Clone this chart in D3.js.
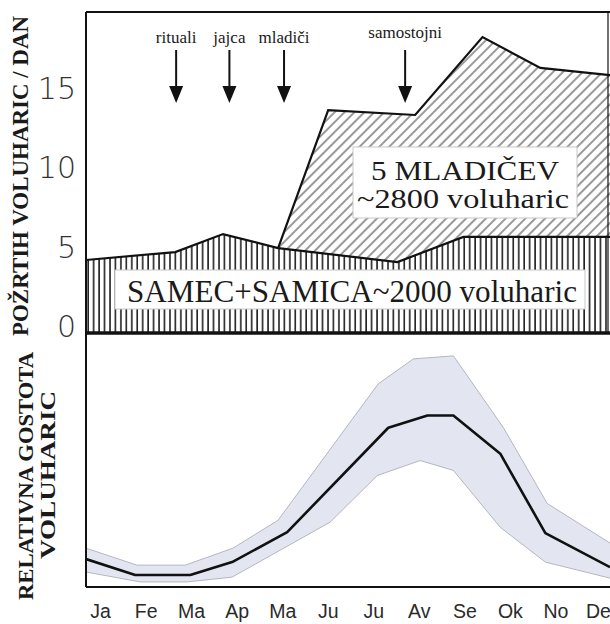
<!DOCTYPE html>
<html><head><meta charset="utf-8">
<script src="https://cdn.jsdelivr.net/npm/d3@7"></script>
<style>body{margin:0;background:#fff}</style>
</head><body>
<svg id="c" width="610" height="624"></svg>
<script>
// ---- data (month position: 0 = Ja ... 11 = De) ----
const months = ["Ja","Fe","Ma","Ap","Ma","Ju","Ju","Av","Se","Ok","No","De"];
const yTicks = [0, 5, 10, 15];
// top panel: voles eaten per day
const pairMonth  = [-0.31, 1.65, 2.70, 3.91, 6.53, 7.98, 11.2];
const pairValue  = [4.34, 4.84, 5.97, 5.09, 4.21, 5.79, 5.79];
const youngMonth = [3.91, 5.01, 6.92, 8.40, 9.67, 11.2];
const youngValue = [5.09, 13.77, 13.46, 18.36, 16.42, 15.97];
const eventLabels = ["rituali", "jajca", "mladiči", "samostojni"];
const eventMonth  = [1.67, 2.84, 4.04, 6.70];
const pairLabel  = "SAMEC+SAMICA~2000 voluharic";
const youngLabel = ["5 MLADIČEV", "~2800 voluharic"];
// bottom panel: relative vole density (arbitrary units)
const meanMonth  = [-0.31, 0.77, 1.98, 2.90, 4.11, 6.33, 7.19, 7.76, 8.79, 9.78, 11.2];
const meanValue  = [11.0, 4.7, 4.7, 9.8, 21.6, 62.7, 67.5, 67.5, 52.5, 21.2, 7.8];
const upperMonth = [-0.31, 0.81, 1.87, 2.92, 3.91, 6.11, 6.88, 7.76, 8.86, 9.82, 11.2];
const upperValue = [15.3, 8.6, 8.6, 15.3, 26.3, 80.0, 89.8, 91.0, 62.7, 32.9, 17.3];
const lowerMonth = [-0.31, 0.88, 1.91, 2.90, 5.05, 6.09, 7.03, 7.76, 8.79, 9.78, 11.2];
const lowerValue = [5.9, 2.0, 2.0, 3.9, 25.5, 43.9, 49.8, 45.9, 23.5, 9.8, 3.5];

// ---- layout ----
const svg = d3.select("#c");
const L = 86, R = 608, T = 12, MID = 333, B = 587;
const x = d3.scaleLinear().domain([-0.31, 11.2]).range([L, 610]);
const y = d3.scaleLinear().domain([0, 15]).range([329, 90.5]);
const y2 = d3.scaleLinear().domain([0, 100]).range([B, MID]);

const defs = svg.append("defs");
const pv = defs.append("pattern").attr("id","vert").attr("patternUnits","userSpaceOnUse")
  .attr("width",5.45).attr("height",10);
pv.append("line").attr("x1",1).attr("x2",1).attr("y1",0).attr("y2",10)
  .attr("stroke","#111").attr("stroke-width",1.5);
const pd = defs.append("pattern").attr("id","diag").attr("patternUnits","userSpaceOnUse")
  .attr("width",7).attr("height",10).attr("patternTransform","rotate(45)");
pd.append("line").attr("x1",1).attr("x2",1).attr("y1",0).attr("y2",10)
  .attr("stroke","#333").attr("stroke-width",1);
defs.append("clipPath").attr("id","clipTop").append("rect")
  .attr("x",L).attr("y",T).attr("width",610-L).attr("height",MID-T);
defs.append("clipPath").attr("id","clipBot").append("rect")
  .attr("x",L).attr("y",MID).attr("width",610-L).attr("height",B-MID);

const pair = pairMonth.map((m,i)=>[m,pairValue[i]]);
const young = youngMonth.map((m,i)=>[m,youngValue[i]]);
const line = d3.line().x(d=>x(d[0])).y(d=>y(d[1]));

const gTop = svg.append("g").attr("clip-path","url(#clipTop)");
// pair area (vertical hatching)
gTop.append("path")
  .datum(pair)
  .attr("d", d3.area().x(d=>x(d[0])).y0(MID).y1(d=>y(d[1])))
  .attr("fill","url(#vert)");
// young area (diagonal hatching) between young line and pair line
const pairTail = pair.filter(d=>d[0] >= youngMonth[0]);
const youngPoly = young.concat(pairTail.slice().reverse());
gTop.append("path").attr("d", line(youngPoly) + "Z").attr("fill","url(#diag)");
gTop.append("path").attr("d", line(pair)).attr("fill","none").attr("stroke","#111").attr("stroke-width",2.2);
gTop.append("path").attr("d", line(young)).attr("fill","none").attr("stroke","#111").attr("stroke-width",2.2);

// text boxes
const serif = "'Liberation Serif','Times New Roman',serif";
gTop.append("rect").attr("x",353).attr("y",147).attr("width",224).attr("height",71)
  .attr("fill","#fff").attr("stroke","#c8c8c8").attr("stroke-width",1);
gTop.append("text").attr("x",465).attr("y",180).attr("text-anchor","middle")
  .attr("font-family",serif).attr("font-size",28).attr("fill","#1a1a1a")
  .attr("textLength",188).attr("lengthAdjust","spacingAndGlyphs").text(youngLabel[0]);
gTop.append("text").attr("x",463).attr("y",208).attr("text-anchor","middle")
  .attr("font-family",serif).attr("font-size",28).attr("fill","#1a1a1a")
  .attr("textLength",212).attr("lengthAdjust","spacingAndGlyphs").text(youngLabel[1]);
gTop.append("rect").attr("x",115).attr("y",270).attr("width",470).attr("height",39)
  .attr("fill","#fff").attr("stroke","#c8c8c8").attr("stroke-width",1);
gTop.append("text").attr("x",352).attr("y",302).attr("text-anchor","middle")
  .attr("font-family",serif).attr("font-size",31).attr("fill","#1a1a1a")
  .attr("textLength",450).attr("lengthAdjust","spacingAndGlyphs").text(pairLabel);

// event arrows
const ev = svg.append("g");
eventLabels.forEach((lab,i)=>{
  const cx = x(eventMonth[i]);
  const ly = i === 3 ? 38 : 43;
  ev.append("text").attr("x",cx).attr("y",ly).attr("text-anchor","middle")
    .attr("font-family",serif).attr("font-size",17).attr("fill","#1a1a1a").text(lab);
  ev.append("line").attr("x1",cx).attr("x2",cx).attr("y1",50).attr("y2",88)
    .attr("stroke","#111").attr("stroke-width",2);
  ev.append("path").attr("d",`M${cx-7},86 L${cx+7},86 L${cx},103 Z`).attr("fill","#111");
});

// bottom panel band + mean
const up = upperMonth.map((m,i)=>[x(m), y2(upperValue[i])]);
const lo = lowerMonth.map((m,i)=>[x(m), y2(lowerValue[i])]);
const bot = svg.append("g").attr("clip-path","url(#clipBot)");
bot.append("path").attr("d", d3.line()(up.concat(lo.slice().reverse())) + "Z")
  .attr("fill","#e3e5f1").attr("stroke","none");
bot.append("path").attr("d", d3.line()(up)).attr("fill","none").attr("stroke","#b4b6c0").attr("stroke-width",1);
bot.append("path").attr("d", d3.line()(lo)).attr("fill","none").attr("stroke","#b4b6c0").attr("stroke-width",1);
bot.append("path").attr("d", d3.line()(meanMonth.map((m,i)=>[x(m), y2(meanValue[i])])))
  .attr("fill","none").attr("stroke","#111").attr("stroke-width",2.6).attr("stroke-linejoin","round");

// frame
const fr = svg.append("g").attr("stroke","#111").attr("fill","none");
fr.append("line").attr("x1",L).attr("x2",610).attr("y1",T).attr("y2",T).attr("stroke-width",2);
fr.append("line").attr("x1",L).attr("x2",L).attr("y1",T).attr("y2",B).attr("stroke-width",2);
fr.append("line").attr("x1",R).attr("x2",R).attr("y1",T).attr("y2",MID).attr("stroke-width",1.2);
fr.append("line").attr("x1",L).attr("x2",610).attr("y1",MID).attr("y2",MID).attr("stroke-width",3.5);
fr.append("line").attr("x1",L).attr("x2",610).attr("y1",B).attr("y2",B).attr("stroke-width",2);

// y axis ticks (top panel)
const yAxis = d3.axisLeft(y).tickValues(yTicks).tickSize(0).tickPadding(10);
const ya = svg.append("g").attr("transform",`translate(${L},0)`).call(yAxis);
ya.select(".domain").remove();
ya.selectAll("text").attr("font-family","'DejaVu Sans',sans-serif").attr("font-weight",200)
  .attr("font-size",30).attr("fill","#333").attr("dy","0.25em");

// month axis
const xAxis = d3.axisBottom(x).tickValues(d3.range(12)).tickFormat(i=>months[i]).tickSize(0).tickPadding(0);
const xa = svg.append("g").attr("transform",`translate(0,${B})`).call(xAxis);
xa.select(".domain").remove();
xa.selectAll("text").attr("font-family","'Liberation Sans',Arial,sans-serif")
  .attr("font-size",19.5).attr("fill","#2a2a2a").attr("dy",0).attr("y",31)
  .attr("dx",(d,i)=> i === 11 ? -3 : 0);

// axis titles
svg.append("text").attr("transform","translate(28,176) rotate(-90)").attr("text-anchor","middle")
  .attr("font-family",serif).attr("font-weight","bold").attr("font-size",22.5).attr("fill","#1a1a1a")
  .attr("textLength",320).attr("lengthAdjust","spacingAndGlyphs")
  .text("POŽRTIH VOLUHARIC / DAN");
svg.append("text").attr("transform","translate(33,476) rotate(-90)").attr("text-anchor","middle")
  .attr("font-family",serif).attr("font-weight","bold").attr("font-size",22).attr("fill","#1a1a1a")
  .attr("textLength",248).attr("lengthAdjust","spacingAndGlyphs")
  .text("RELATIVNA GOSTOTA");
svg.append("text").attr("transform","translate(55,475) rotate(-90)").attr("text-anchor","middle")
  .attr("font-family",serif).attr("font-weight","bold").attr("font-size",22).attr("fill","#1a1a1a")
  .attr("textLength",168).attr("lengthAdjust","spacingAndGlyphs")
  .text("VOLUHARIC");
</script>
</body></html>
